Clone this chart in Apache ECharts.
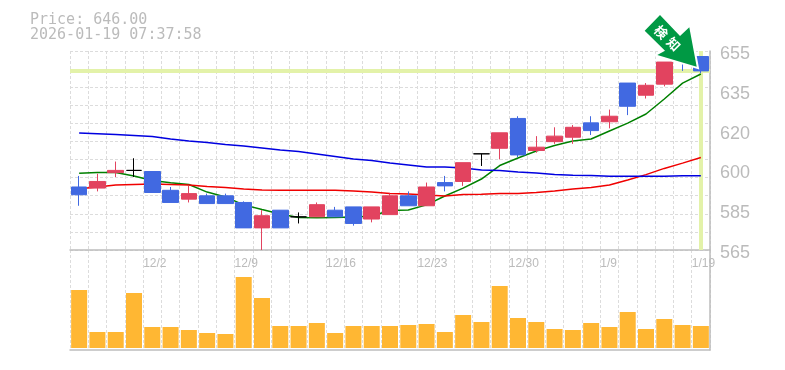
<!DOCTYPE html>
<html>
<head>
<meta charset="utf-8">
<style>html,body{margin:0;padding:0;background:#fff}#chart{width:785px;height:370px}</style>
<script src="https://cdn.jsdelivr.net/npm/echarts@6/dist/echarts.min.js"></script>
</head>
<body>
<div id="chart"></div>
<script>
// daily bars, oldest first
var categories = ['11/26','11/27','11/28','12/1','12/2','12/3','12/4','12/5','12/8','12/9','12/10','12/11','12/12','12/15','12/16','12/17','12/18','12/19','12/22','12/23','12/24','12/25','12/26','12/29','12/30','1/5','1/6','1/7','1/8','1/9','1/13','1/14','1/15','1/16','1/19'];
var shownDates = ['12/2','12/9','12/16','12/23','12/30','1/9','1/19'];
var priceTicks = [565,583,601,619,637,655];
var priceLabels = ['565','585','600','620','635','655'];
var lastPrice = 646;

// open, close, low, high
var candles = [
    [593.5,590,585,598.5],[593,596,591.5,599.5],[600,601,598,605],[601,601,598,606.5],[600.5,591,591,600.5],
    [592,586.5,586.5,593.5],[588,590.5,586.5,594],[589.5,586,586,590.5],[589.5,586,586,590.5],[586.5,575,575,587],
    [575,580.5,565,583],[583,575,575,583],[580,580,577,582],[580,585.5,580,586.5],[583,580,580,584.5],
    [584.5,577,576,584.5],[579,584.5,577.5,584.5],[581,589.5,581,590.5],[589.5,585,585,591.5],[585,593.5,585,595.5],
    [595.5,594,591.5,598.5],[596,604.5,594,604.5],[608.5,608.5,603,608.5],[611,618,606,618],[624.5,608,607,625.5],
    [610,611.5,609,616.5],[614,616.5,613,620.5],[616,620.5,613,621.5],[622.5,619,617,625.5],[623,625.5,620,628.5],
    [640.5,630,626,640.5],[635,639.5,633.5,640.5],[640,650,639,650],[654,651,646,654],[652.5,646,645,652.5]
];
var maShort = [599.7,600.1,600,598.5,596.4,595.4,594.6,591.2,589,585.4,583.3,581.3,579.7,579.6,579.7,579.9,580.4,582.9,583.1,585.4,589.4,593,597.1,603.2,606.6,609.8,612.3,614.3,615.2,618.8,622.4,626.5,633.3,640.5,644.6];
var maMid = [592.7,593.5,594.4,594.6,594.8,594.6,594.4,593.7,593.3,592.6,592.1,592,592,592,592,591.7,591.2,590.6,590.3,589.9,589.4,590.1,590.2,590.5,590.5,591,591.7,592.6,593.3,594.4,596.7,599.1,601.9,604.3,606.8];
var maLong = [617.9,617.6,617.2,616.8,616.3,615.2,614.3,613.6,612.7,612,611.1,610.2,609.5,608.4,607.3,606.2,605.5,604.3,603.4,602.5,602.5,602.1,601.2,601,600.3,599.8,599.2,598.8,598.7,598.3,598.3,598.3,598.3,598.6,598.6];
var volumes = [58,16,16,55,21,21,18,15,14,71,50,22,22,25,15,22,22,22,23,24,16,33,26,62,30,26,19,18,25,21,36,19,29,23,22];

var gridDash = { color: '#dcdcdc', width: 1, type: [3, 2] };
var frame = { color: '#bdbdbd', width: 1.5 };
var arrowPoints = [[660,15],[644.7,30.7],[665,50.7],[657.3,55],[696.7,66.7],[689.3,27.3],[680,36]];

var chart = echarts.init(document.getElementById('chart'), null, { renderer: 'canvas' });

var option = {
    animation: false,
    backgroundColor: '#fff',
    title: {
        text: 'Price: 646.00\n2026-01-19 07:37:58',
        left: 25,
        top: 8,
        textStyle: { fontFamily: 'DejaVu Sans Mono', fontSize: 15, fontWeight: 'normal', color: '#bbb', lineHeight: 15 }
    },
    grid: [
        { left: 70, width: 640, top: 51, height: 199 },
        { left: 70, width: 640, top: 250, height: 100 }
    ],
    xAxis: [
        {
            type: 'category', gridIndex: 0, data: categories,
            axisLine: { onZero: false, lineStyle: frame }, axisTick: { show: false }, axisLabel: { show: false },
            splitLine: { show: true, interval: 0, lineStyle: gridDash }
        },
        {
            type: 'category', gridIndex: 1, data: categories,
            axisLine: { onZero: false, lineStyle: frame }, axisTick: { show: false }, axisLabel: { show: false },
            splitLine: { show: true, interval: 0, lineStyle: gridDash }
        },
        {
            // date labels start at the left edge of their bar
            type: 'category', gridIndex: 0, boundaryGap: false, data: categories.concat(''), position: 'bottom',
            axisLine: { show: false }, axisTick: { show: false }, splitLine: { show: false },
            axisLabel: {
                interval: 0, align: 'left', margin: 8, hideOverlap: false,
                showMinLabel: true, showMaxLabel: true,
                fontFamily: 'Liberation Sans', fontSize: 12, color: '#bbb',
                formatter: function (v) { return shownDates.indexOf(v) >= 0 ? v : ''; }
            }
        }
    ],
    yAxis: [
        {
            type: 'value', gridIndex: 0, position: 'right', min: 565, max: 655, scale: true,
            axisLine: { show: true, lineStyle: frame }, axisTick: { show: false }, splitLine: { show: false },
            axisLabel: {
                customValues: priceTicks, margin: 10, verticalAlign: 'top', lineHeight: 6,
                fontFamily: 'Liberation Sans', fontSize: 18, color: '#bbb',
                formatter: function (v) { return priceLabels[priceTicks.indexOf(v)]; }
            }
        },
        {
            // only for the dashed rows
            type: 'value', gridIndex: 0, min: 0, max: 11, interval: 1,
            axisLine: { show: false }, axisTick: { show: false }, axisLabel: { show: false },
            splitLine: { show: true, lineStyle: gridDash }
        },
        {
            type: 'value', gridIndex: 1, position: 'right', min: -2, max: 98,
            axisLine: { show: true, lineStyle: frame }, axisTick: { show: false }, axisLabel: { show: false },
            splitLine: { show: false }
        }
    ],
    series: [
        {
            name: 'MA short', type: 'line', xAxisIndex: 0, yAxisIndex: 0, data: maShort, z: 2,
            symbol: 'none', lineStyle: { color: '#008000', width: 1.5 },
            markLine: {
                silent: true, symbol: 'none', z: 1, label: { show: false },
                lineStyle: { color: '#e3f2a9', width: 4, type: 'solid' },
                data: [{ yAxis: lastPrice }, { xAxis: categories[categories.length - 1] }]
            }
        },
        { name: 'MA mid', type: 'line', xAxisIndex: 0, yAxisIndex: 0, data: maMid, z: 2, symbol: 'none', lineStyle: { color: '#f00000', width: 1.5 } },
        { name: 'MA long', type: 'line', xAxisIndex: 0, yAxisIndex: 0, data: maLong, z: 2, symbol: 'none', lineStyle: { color: '#0000e0', width: 1.5 } },
        {
            name: 'Price', type: 'candlestick', xAxisIndex: 0, yAxisIndex: 0, data: candles, z: 3, barWidth: 16,
            itemStyle: {
                color: '#e2435f', color0: '#4169e1',
                borderColor: '#e2435f', borderColor0: '#4169e1', borderColorDoji: '#000', borderWidth: 1
            }
        },
        {
            name: 'Volume', type: 'bar', xAxisIndex: 1, yAxisIndex: 2, data: volumes, barWidth: 16,
            itemStyle: { color: '#ffb733' }
        }
    ],
    graphic: [
        {
            type: 'polygon', z: 49,
            shape: { points: arrowPoints },
            style: { fill: '#fff', stroke: '#fff', lineWidth: 4 }
        },
        {
            type: 'polygon', z: 50,
            shape: { points: arrowPoints },
            style: { fill: '#009944' }
        },
        {
            type: 'text', z: 51, x: 661, y: 32, rotation: -Math.PI / 4,
            style: { text: '検', fill: '#fff', font: 'bold 13px "Noto Sans CJK JP"', textAlign: 'center', textVerticalAlign: 'middle' }
        },
        {
            type: 'text', z: 51, x: 673.5, y: 44, rotation: -Math.PI / 4,
            style: { text: '知', fill: '#fff', font: 'bold 13px "Noto Sans CJK JP"', textAlign: 'center', textVerticalAlign: 'middle' }
        }
    ]
};

chart.setOption(option);
</script>
</body>
</html>
